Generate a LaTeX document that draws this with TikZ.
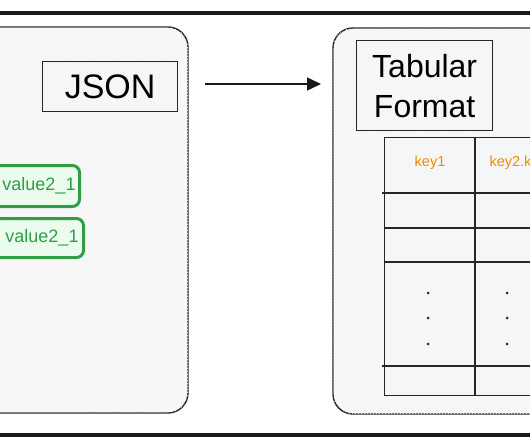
\documentclass[tikz,border=0pt]{standalone}
\usepackage{fontspec}
\setmainfont{Liberation Sans}
\usetikzlibrary{arrows.meta,patterns}
\definecolor{exgreen}{HTML}{2F9E44}
\definecolor{exgreenbg}{HTML}{EBFBEE}
\definecolor{exorange}{HTML}{F08C00}
\definecolor{panelbg}{HTML}{F8F8F8}
\definecolor{boxbg}{HTML}{F5F6F8}
\tikzset{
  panel/.style={draw=black!85, line width=1.4pt, fill=panelbg, rounded corners=20pt},
  titlebox/.style={draw=black!85, line width=1.3pt, fill=boxbg, inner sep=0pt},
  valbox/.style={draw=exgreen, line width=3pt, fill=exgreenbg, rounded corners=7pt, inner sep=0pt},
  valtext/.style={text=exgreen, font=\fontsize{18}{20}\selectfont},
  keytext/.style={text=exorange, font=\fontsize{14.5}{16}\selectfont},
  gridline/.style={draw=black!85, line width=1.1pt},
  thickline/.style={draw=black!90, line width=4.5pt},
  dotmark/.style={circle, fill=black!85, inner sep=0pt, minimum size=3pt}
}
\begin{document}
\begin{tikzpicture}[x=1pt,y=-1pt]
\useasboundingbox (0,0) rectangle (530,442);
\clip (0,0) rectangle (530,442);
\fill[white] (0,0) rectangle (530,442);
% thick frame lines
\draw[thickline] (-5,13) -- (535,13);
\draw[thickline] (-5,435) -- (535,435);
% left panel
\path[panel] (-30,27) rectangle (188,413);
\path[pattern=crosshatch dots, pattern color=black!5] (-30,27) [rounded corners=20pt] rectangle (188,413);
\node[titlebox, minimum width=135pt, minimum height=50pt, anchor=north west] (json) at (42,61) {};
\node[font=\fontsize{34}{40}\selectfont] (jsontext) at (json.center) {JSON};
% green value boxes
\node[valbox, minimum width=100pt, minimum height=41pt, anchor=north east] (v1) at (81,164) {};
\node[valtext, anchor=center] (v1t) at (39,186) {value2\_1};
\node[valbox, minimum width=100pt, minimum height=39pt, anchor=north east] (v2) at (85,217) {};
\node[valtext, anchor=center] (v2t) at (42,238) {value2\_1};
% right panel
\path[panel] (333,28) rectangle (580,414);
\path[pattern=crosshatch dots, pattern color=black!5] (333,28) [rounded corners=20pt] rectangle (580,414);
\node[titlebox, minimum width=136pt, minimum height=90pt, anchor=north west] (tab) at (356,40) {};
\node[font=\fontsize{32}{40}\selectfont, align=center] (tabtext) at (tab.center) {Tabular\\Format};
% arrow
\coordinate (arrs) at (205,84);
\coordinate (arre) at (321,84);
\draw[line width=1.4pt, black!90, -{Triangle[length=14pt,width=13pt]}] (arrs) -- (arre);
% table
\node[draw=black!85, line width=1.2pt, fill=boxbg, minimum width=200pt, minimum height=258pt, anchor=north west, inner sep=0pt] (table) at (384,137) {};
\draw[gridline] (475,137) -- (475,395);
\draw[gridline] (382,193) -- (535,193);
\draw[gridline] (384,228) -- (535,228);
\draw[gridline, line width=1.5pt] (384,262) -- (535,262);
\draw[gridline, line width=1.5pt] (382,366) -- (535,366);
\node[keytext] (k1) at (430,163) {key1};
\node[keytext, anchor=west] (k2) at (486,163) {key2.key};
\foreach \yy in {293,318,344} {
  \node[dotmark] at (428,\yy) {};
  \node[dotmark] at (507,\yy) {};
}
\end{tikzpicture}
\end{document}
